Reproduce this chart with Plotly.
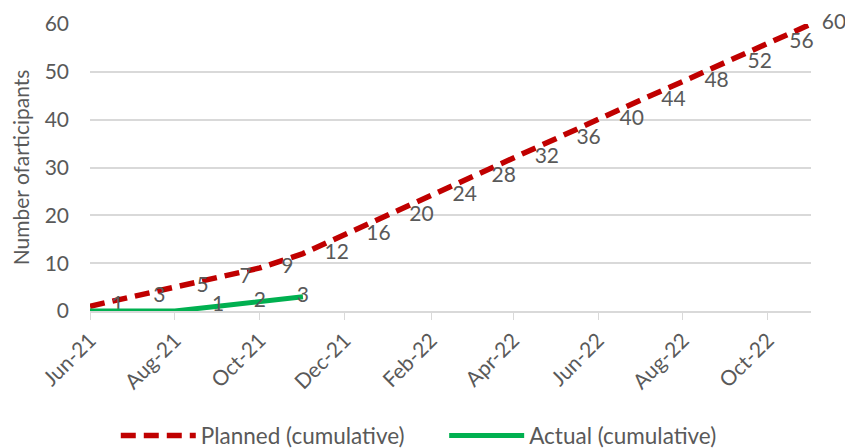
import plotly.graph_objects as go

months = ["2021-06-01", "2021-07-01", "2021-08-01", "2021-09-01", "2021-10-01", "2021-11-01",
          "2021-12-01", "2022-01-01", "2022-02-01", "2022-03-01", "2022-04-01", "2022-05-01",
          "2022-06-01", "2022-07-01", "2022-08-01", "2022-09-01", "2022-10-01", "2022-11-01"]
planned = [1, 3, 5, 7, 9, 12, 16, 20, 24, 28, 32, 36, 40, 44, 48, 52, 56, 60]
actual_months = months[:6]
actual = [0, 0, 0, 1, 2, 3]

font_family = "Lato, Open Sans, sans-serif"
text_color = "#595959"
FS = 21
NB = "\u00a0"
planned_text = [NB * (4 if i < len(planned) - 1 else 2) + str(v) for i, v in enumerate(planned)]

fig = go.Figure()
fig.add_trace(go.Scatter(
    x=months, y=planned, mode="lines+text", name="Planned (cumulative)" + NB * 6,
    line=dict(color="#C00000", width=5.5, dash="15px,8px"),
    text=planned_text, textposition="middle right",
    textfont=dict(size=FS, color=text_color, family=font_family),
    cliponaxis=False,
))
fig.add_trace(go.Scatter(
    x=actual_months, y=actual, mode="lines+text", name="Actual (cumulative)",
    line=dict(color="#00B050", width=5),
    text=[str(v) if v else "" for v in actual], textposition="middle center",
    textfont=dict(size=FS, color=text_color, family=font_family),
    cliponaxis=False,
))

fig.update_layout(
    width=845, height=440,
    margin=dict(l=82, r=42, t=16, b=137, autoexpand=False),
    plot_bgcolor="white", paper_bgcolor="white",
    font=dict(family=font_family, size=FS, color=text_color),
    showlegend=True,
    legend=dict(orientation="h", x=0.456, xanchor="center", y=-0.4355, yanchor="middle",
                font=dict(size=22.5, color=text_color), itemwidth=75, tracegroupgap=0),
    xaxis=dict(
        type="date", range=["2021-06-01", "2022-11-01"],
        tick0="2021-06-01", dtick="M2", tickformat="%b-%y", tickangle=-45,
        showgrid=False, showline=True, linecolor="#D9D9D9", linewidth=1.5,
        ticks="outside", ticklen=7, tickcolor="#D9D9D9", automargin=False,
        tickfont=dict(size=FS, color=text_color),
    ),
    yaxis=dict(
        range=[0, 60], dtick=10, showgrid=True, gridcolor="#D9D9D9", gridwidth=1.5,
        zeroline=False, showline=False, ticks="", ticklabelstandoff=20, automargin=False,
        title=dict(text="Number ofarticipants", font=dict(size=FS, color=text_color), standoff=16),
        tickfont=dict(size=FS, color=text_color),
    ),
)

fig.write_html("out.html")
